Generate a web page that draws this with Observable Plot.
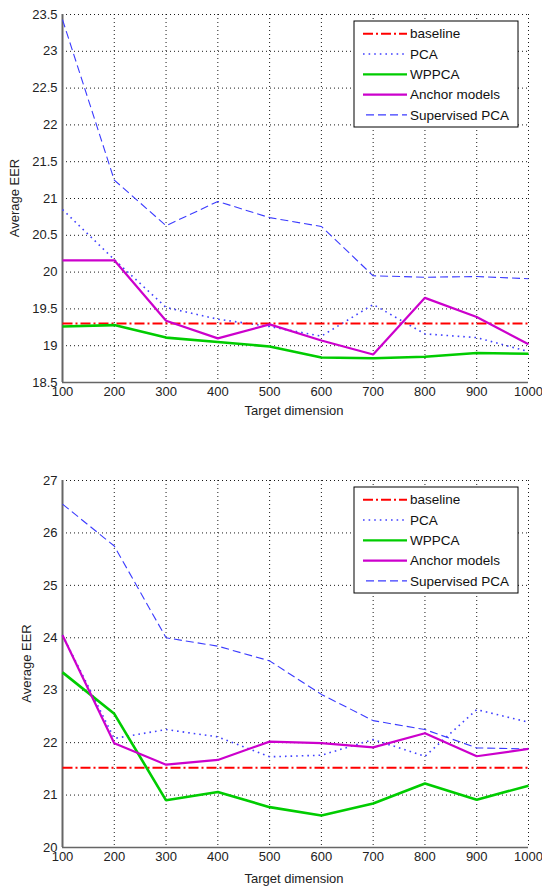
<!DOCTYPE html>
<html>
<head>
<meta charset="utf-8">
<script src="https://cdn.jsdelivr.net/npm/d3@7"></script>
<script src="https://cdn.jsdelivr.net/npm/@observablehq/plot@0.6"></script>
<style>
  html, body { margin: 0; padding: 0; background: #fff; }
  #chart svg { display: block; overflow: visible; }
</style>
</head>
<body>
<div id="chart"></div>
<script>
// ---- data ----
const dims = [100, 200, 300, 400, 500, 600, 700, 800, 900, 1000];
const seriesNames = ["baseline", "PCA", "WPPCA", "Anchor models", "Supervised PCA"];

// top panel
const topBaseline = [19.3, 19.3, 19.3, 19.3, 19.3, 19.3, 19.3, 19.3, 19.3, 19.3];
const topPCA = [20.85, 20.17, 19.52, 19.36, 19.26, 19.13, 19.56, 19.16, 19.11, 18.92];
const topWPPCA = [19.26, 19.28, 19.11, 19.05, 18.99, 18.84, 18.83, 18.85, 18.9, 18.89];
const topAnchor = [20.16, 20.16, 19.34, 19.1, 19.29, 19.07, 18.88, 19.65, 19.39, 19.02];
const topSupPCA = [23.43, 21.25, 20.63, 20.96, 20.74, 20.62, 19.95, 19.93, 19.94, 19.91];
const topYTicks = [18.5, 19, 19.5, 20, 20.5, 21, 21.5, 22, 22.5, 23, 23.5];

// bottom panel
const botBaseline = [21.52, 21.52, 21.52, 21.52, 21.52, 21.52, 21.52, 21.52, 21.52, 21.52];
const botPCA = [24.05, 22.08, 22.25, 22.11, 21.73, 21.76, 22.06, 21.74, 22.63, 22.39];
const botWPPCA = [23.34, 22.55, 20.9, 21.06, 20.77, 20.61, 20.84, 21.22, 20.91, 21.18];
const botAnchor = [24.05, 21.99, 21.58, 21.67, 22.02, 21.99, 21.91, 22.18, 21.74, 21.88];
const botSupPCA = [26.55, 25.75, 24.0, 23.84, 23.56, 22.92, 22.42, 22.25, 21.9, 21.88];
const botYTicks = [20, 21, 22, 23, 24, 25, 26, 27];

const xTicks = dims;
const xLabel = "Target dimension";
const yLabel = "Average EER";

// ---- styles ----
const styles = {
  "baseline": {stroke: "#ff0000", strokeWidth: 2, strokeDasharray: "10,3,2,3"},
  "PCA": {stroke: "#4040ff", strokeWidth: 1.6, strokeDasharray: "1.6,4"},
  "WPPCA": {stroke: "#00cc00", strokeWidth: 2.6, strokeDasharray: null},
  "Anchor models": {stroke: "#cc00cc", strokeWidth: 2.2, strokeDasharray: null},
  "Supervised PCA": {stroke: "#3b3bff", strokeWidth: 1.1, strokeDasharray: "8,4"}
};

function buildRows(lists) {
  const rows = [];
  seriesNames.forEach((name, i) => {
    dims.forEach((d, j) => rows.push({series: name, x: d, y: lists[i][j]}));
  });
  return rows;
}

function panel({lists, yDomain, yTicks, height, marginTop, marginBottom, labelY, xLabelOffset}) {
  const rows = buildRows(lists);
  const font = "Liberation Sans, Arial, sans-serif";
  const marginLeft = 62, marginRight = 14;
  const marks = [
    Plot.gridX(xTicks, {stroke: "#000", strokeOpacity: 0.9, strokeWidth: 1, strokeDasharray: "1,3"}),
    Plot.gridY(yTicks, {stroke: "#000", strokeOpacity: 0.9, strokeWidth: 1, strokeDasharray: "1,3"}),
    Plot.axisX({ticks: xTicks, tickSize: 0, tickPadding: 4, tickFormat: d => String(d), label: null, fontSize: 13}),
    Plot.axisY({ticks: yTicks, tickSize: 0, tickPadding: 5, tickFormat: d => String(d), label: null, fontSize: 13}),
    Plot.ruleX([100], {stroke: "#666", strokeWidth: 2}),
    Plot.ruleY([yDomain[0]], {stroke: "#666", strokeWidth: 1.5})
  ];
  const drawOrder = ["Supervised PCA", "PCA", "baseline", "WPPCA", "Anchor models"];
  for (const name of drawOrder) {
    const s = styles[name];
    marks.push(Plot.line(rows.filter(r => r.series === name), {
      x: "x", y: "y",
      stroke: s.stroke, strokeWidth: s.strokeWidth,
      strokeDasharray: s.strokeDasharray || undefined,
      strokeLinejoin: "miter", strokeLinecap: "butt"
    }));
  }
  const svg = Plot.plot({
    width: 542,
    height,
    marginLeft,
    marginRight,
    marginTop,
    marginBottom,
    style: {fontFamily: font, fontSize: "13px", color: "#222", background: "#fff", overflow: "visible"},
    x: {domain: [100, 1000]},
    y: {domain: yDomain},
    marks
  });

  const sel = d3.select(svg);
  const plotLeft = marginLeft, plotRight = 542 - marginRight;
  const plotTop = marginTop, plotBottom = height - marginBottom;

  // axis labels
  sel.append("text")
    .attr("x", (plotLeft + plotRight) / 2 - 1)
    .attr("y", plotBottom + xLabelOffset)
    .attr("text-anchor", "middle")
    .attr("font-family", font)
    .attr("font-size", 13)
    .attr("fill", "#222")
    .text(xLabel);
  sel.append("text")
    .attr("transform", `translate(${labelY},${(plotTop + plotBottom) / 2}) rotate(-90)`)
    .attr("text-anchor", "middle")
    .attr("font-family", font)
    .attr("font-size", 13)
    .attr("fill", "#222")
    .text(yLabel);

  // legend
  const lx = 354, ly = plotTop + 7, lw = 164, lh = 106;
  const g = sel.append("g");
  g.append("rect").attr("x", lx).attr("y", ly).attr("width", lw).attr("height", lh)
    .attr("fill", "#fff").attr("stroke", "#000").attr("stroke-width", 1);
  seriesNames.forEach((name, i) => {
    const s = styles[name];
    const cy = ly + 12.7 + i * 20.3;
    const line = g.append("line")
      .attr("x1", lx + (name === "Supervised PCA" ? 12 : 9)).attr("x2", lx + 53)
      .attr("y1", cy).attr("y2", cy)
      .attr("stroke", s.stroke).attr("stroke-width", Math.min(s.strokeWidth, 2.2));
    if (s.strokeDasharray) line.attr("stroke-dasharray", s.strokeDasharray);
    g.append("text")
      .attr("x", lx + 56).attr("y", cy).attr("dy", "0.35em")
      .attr("text-anchor", "start")
      .attr("font-family", font).attr("font-size", 13.5).attr("fill", "#111")
      .text(name);
  });
  return svg;
}

const root = document.getElementById("chart");
root.appendChild(panel({
  lists: [topBaseline, topPCA, topWPPCA, topAnchor, topSupPCA],
  yDomain: [18.5, 23.5], yTicks: topYTicks,
  height: 440, marginTop: 14, marginBottom: 58, labelY: 19, xLabelOffset: 33
}));
root.appendChild(panel({
  lists: [botBaseline, botPCA, botWPPCA, botAnchor, botSupPCA],
  yDomain: [20, 27], yTicks: botYTicks,
  height: 447, marginTop: 40, marginBottom: 40, labelY: 31, xLabelOffset: 36
}));
</script>
</body>
</html>
